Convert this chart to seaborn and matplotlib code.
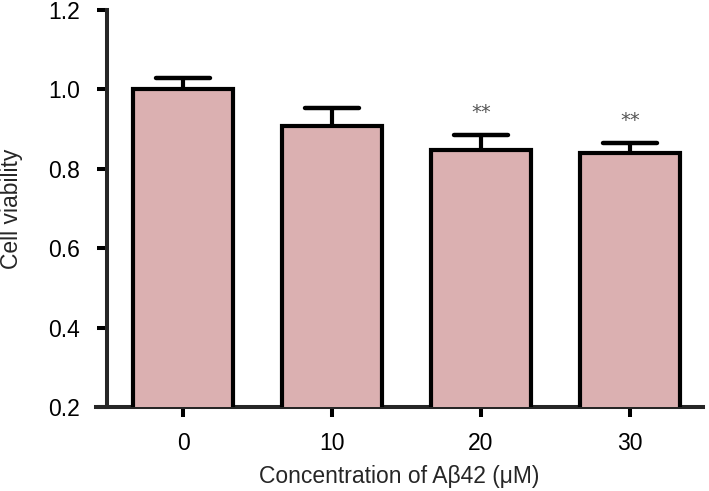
import matplotlib
matplotlib.use("Agg")
import matplotlib.pyplot as plt
import seaborn as sns
import pandas as pd

categories = ["0", "10", "20", "30"]
viability = [1.00, 0.908, 0.847, 0.840]
sem = [0.028, 0.045, 0.038, 0.024]
significance = ["", "", "**", "**"]

sns.set_style("ticks")
plt.rcParams["font.family"] = ["Liberation Sans", "DejaVu Sans"]

df = pd.DataFrame({"conc": categories, "viability": viability})

fig = plt.figure(figsize=(7.09, 4.91), dpi=100)
ax = fig.add_axes([96 / 709, (491 - 407) / 491, (703 - 96) / 709, (407 - 10) / 491])

sns.barplot(data=df, x="conc", y="viability", ax=ax, color="#dbb0b1",
            saturation=1, width=0.67, edgecolor="black", linewidth=3.0,
            errorbar=None, zorder=3)

centers = [p.get_x() + p.get_width() / 2 for p in ax.patches]
tops = [v + e for v, e in zip(viability, sem)]
ax.vlines(centers, viability, tops, colors="black", linewidth=3.0, zorder=2)
ax.hlines(tops, [c - 0.18 for c in centers], [c + 0.18 for c in centers],
          colors="black", linewidth=3.2, capstyle="round", zorder=2)
for c, t, s in zip(centers, tops, significance):
    if s:
        ax.text(c, t + 0.058, s, ha="center", va="center", fontsize=14,
                color="#555555", family=["DejaVu Sans"])

ax.set_ylim(0.2, 1.2)
ax.set_xlim(-0.584, 3.49)
ax.set_yticks([0.2, 0.4, 0.6, 0.8, 1.0, 1.2])
ax.set_yticklabels(["0.2", "0.4", "0.6", "0.8", "1.0", "1.2"])
ax.spines["left"].set_position(("data", -0.51))
ax.spines["top"].set_visible(False)
ax.spines["right"].set_visible(False)
for sp in ("left", "bottom"):
    ax.spines[sp].set_linewidth(2.9)
ax.tick_params(axis="both", width=2.9, length=7.2, labelsize=16.5, colors="black")
ax.tick_params(axis="y", pad=12)
ax.tick_params(axis="x", pad=11)
ax.set_xlabel("Concentration of Aβ42 (μM)", fontsize=16.5, labelpad=7)
ax.set_ylabel("Cell viability", fontsize=16.5)
ax.yaxis.set_label_coords(-0.12, 0.5)

fig.savefig("out.png", dpi=100)
